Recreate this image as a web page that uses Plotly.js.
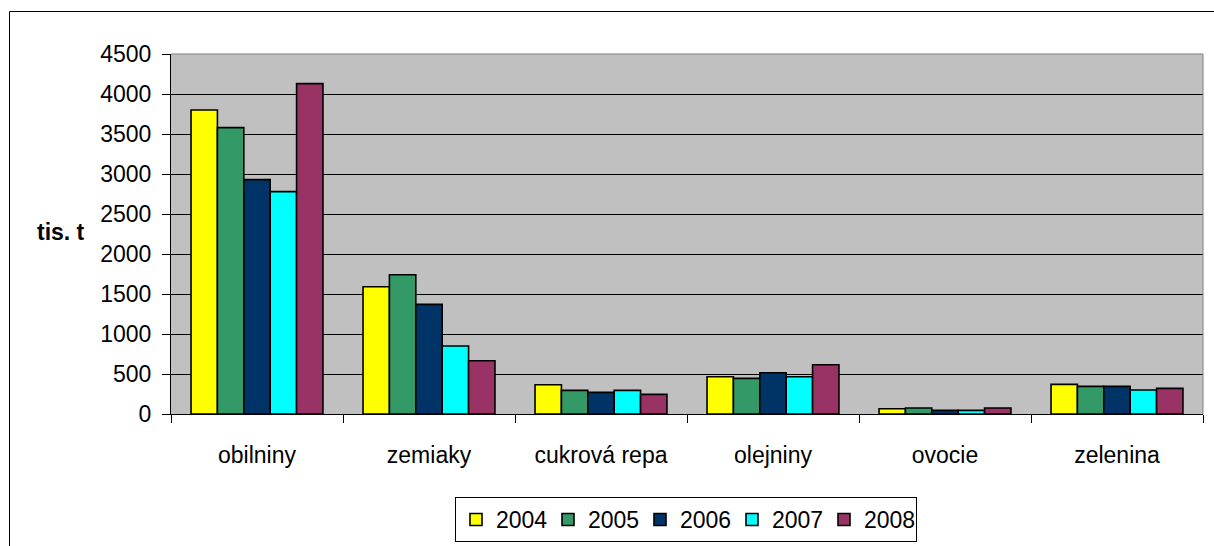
<!DOCTYPE html>
<html>
<head>
<meta charset="utf-8">
<script src="https://cdn.plot.ly/plotly-3.0.1.min.js"></script>
<style>
html,body{margin:0;padding:0;background:#fff;}
#chart{width:1214px;height:546px;}
</style>
</head>
<body>
<div id="chart"></div>
<script>
const categories = ["obilniny", "zemiaky", "cukrová repa", "olejniny", "ovocie", "zelenina"];
const years = ["2004", "2005", "2006", "2007", "2008"];
const v2004 = [3800, 1590, 365, 465, 65, 370];
const v2005 = [3580, 1740, 295, 445, 75, 345];
const v2006 = [2930, 1370, 270, 515, 45, 345];
const v2007 = [2780, 850, 295, 465, 45, 300];
const v2008 = [4130, 665, 245, 615, 75, 320];
const yTicks = [0, 500, 1000, 1500, 2000, 2500, 3000, 3500, 4000, 4500];
const colors = ["#FFFF00", "#339966", "#003366", "#00FFFF", "#993366"];
const series = [v2004, v2005, v2006, v2007, v2008];

const traces = series.map((vals, i) => ({
  type: "bar",
  name: years[i],
  x: categories,
  y: vals,
  marker: {color: colors[i], line: {color: "#000000", width: 1.6}},
  hoverinfo: "x+y+name"
}));

const W = 1214, H = 546;
const ml = 171, mr = 11, mt = 54, mb = 132;
const pw = W - ml - mr, ph = H - mt - mb;
const px = x => (x - ml) / pw;
const py = y => (H - mb - y) / ph;

const layout = {
  width: W, height: H,
  margin: {l: ml, r: mr, t: mt, b: mb, pad: 0, autoexpand: false},
  paper_bgcolor: "#FFFFFF",
  plot_bgcolor: "#C0C0C0",
  font: {family: "Liberation Sans, Arial, sans-serif", size: 23, color: "#000000"},
  barmode: "group",
  bargap: 0.233,
  bargroupgap: 0,
  showlegend: true,
  legend: {
    orientation: "h",
    x: px(455), xanchor: "left",
    y: py(497), yanchor: "top",
    bordercolor: "#000000", borderwidth: 1,
    bgcolor: "#FFFFFF",
    font: {size: 23},
    traceorder: "normal",
    itemwidth: 30,
    entrywidth: 47,
    entrywidthmode: "pixels"
  },
  xaxis: {
    type: "category",
    showgrid: false,
    showline: true, linecolor: "#000000", linewidth: 1,
    ticks: "outside", tickson: "boundaries", ticklen: 8, tickcolor: "#000000",
    ticklabelstandoff: 20,
    tickfont: {size: 23},
    mirror: false
  },
  yaxis: {
    range: [0, 4500],
    tickvals: yTicks,
    ticktext: yTicks.map(String),
    showgrid: true, gridcolor: "#000000", gridwidth: 1,
    showline: true, linecolor: "#000000", linewidth: 1,
    ticks: "outside", ticklen: 8, tickcolor: "#000000",
    ticklabelstandoff: 6,
    tickfont: {size: 23},
    zeroline: false
  },
  annotations: [{
    xref: "paper", yref: "paper",
    x: px(61), y: py(232),
    xanchor: "center", yanchor: "middle",
    text: "<b>tis. t</b>", showarrow: false,
    font: {size: 23, color: "#000000"}
  }],
  shapes: [
    {type: "line", xref: "paper", yref: "paper", x0: px(9.5), x1: px(9.5), y0: py(11.5), y1: py(560), line: {color: "#000000", width: 1}},
    {type: "line", xref: "paper", yref: "paper", x0: px(9.5), x1: px(1214), y0: py(11.5), y1: py(11.5), line: {color: "#000000", width: 1}},
    {type: "line", xref: "paper", yref: "paper", x0: 1, x1: 1, y0: 0, y1: 1, line: {color: "#808080", width: 1}},
    {type: "line", xref: "paper", yref: "paper", x0: 0, x1: 1, y0: 1, y1: 1, line: {color: "#808080", width: 1}}
  ]
};

Plotly.newPlot("chart", traces, layout, {displayModeBar: false, staticPlot: true});
</script>
</body>
</html>
